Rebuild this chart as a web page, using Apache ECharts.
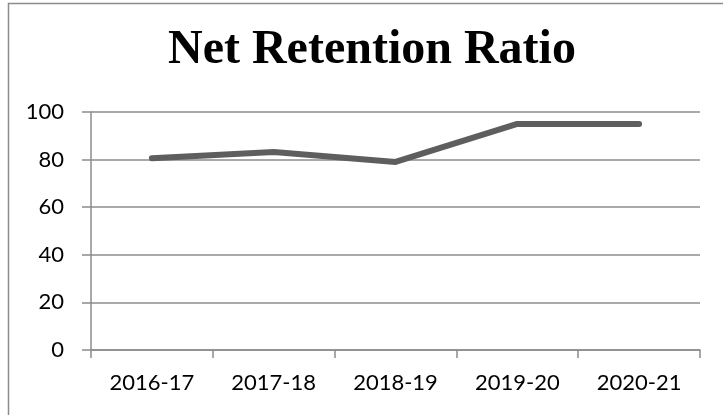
<!DOCTYPE html>
<html>
<head>
<meta charset="utf-8">
<title>Net Retention Ratio</title>
<script src="https://cdn.jsdelivr.net/npm/echarts@6/dist/echarts.min.js"></script>
<style>
  html, body { margin: 0; padding: 0; background: #fff; }
  #main { width: 723px; height: 415px; }
</style>
</head>
<body>
<div id="main"></div>
<script>
// chart data
const years = ['2016-17', '2017-18', '2018-19', '2019-20', '2020-21'];
const retentionRatio = [80.6, 83.2, 79.0, 95.0, 95.0];
const yTicks = [0, 20, 40, 60, 80, 100];

const myChart = echarts.init(document.getElementById('main'));

myChart.setOption({
  animation: false,
  backgroundColor: '#fff',
  title: {
    text: 'Net Retention Ratio',
    left: 163,
    top: 22,
    textStyle: {
      fontFamily: '"Liberation Serif", "DejaVu Serif", serif',
      fontWeight: 'bold',
      fontSize: 48,
      color: '#000'
    }
  },
  // outer chart frame, cut off at right and bottom like the original
  graphic: [{
    type: 'rect',
    shape: { x: 8.5, y: 3.5, width: 900, height: 600 },
    style: { fill: 'none', stroke: '#8c8c8c', lineWidth: 1.5 },
    silent: true
  }],
  grid: { left: 91, right: 23, top: 112, bottom: 65 },
  xAxis: {
    type: 'category',
    data: years,
    boundaryGap: true,
    axisLine: { lineStyle: { color: '#8c8c8c', width: 1.5 } },
    axisTick: { show: true, length: 8, alignWithLabel: false, lineStyle: { color: '#8c8c8c', width: 1.5 } },
    axisLabel: {
      margin: 22,
      fontFamily: 'Lato, "Open Sans", sans-serif',
      fontSize: 22,
      color: '#000'
    },
    splitLine: { show: false }
  },
  yAxis: {
    type: 'value',
    min: yTicks[0],
    max: yTicks[yTicks.length - 1],
    interval: 20,
    axisLine: { show: true, lineStyle: { color: '#8c8c8c', width: 1.5 } },
    axisTick: { show: true, length: 9, lineStyle: { color: '#8c8c8c', width: 1.5 } },
    axisLabel: {
      margin: 27,
      fontFamily: 'Lato, "Open Sans", sans-serif',
      fontSize: 22,
      color: '#000'
    },
    splitLine: { show: true, lineStyle: { color: '#8c8c8c', width: 1.5 } }
  },
  series: [{
    name: 'Net Retention Ratio',
    type: 'line',
    data: retentionRatio,
    symbol: 'none',
    lineStyle: { color: '#5e5e5e', width: 6, cap: 'round', join: 'round' }
  }]
});
</script>
</body>
</html>
